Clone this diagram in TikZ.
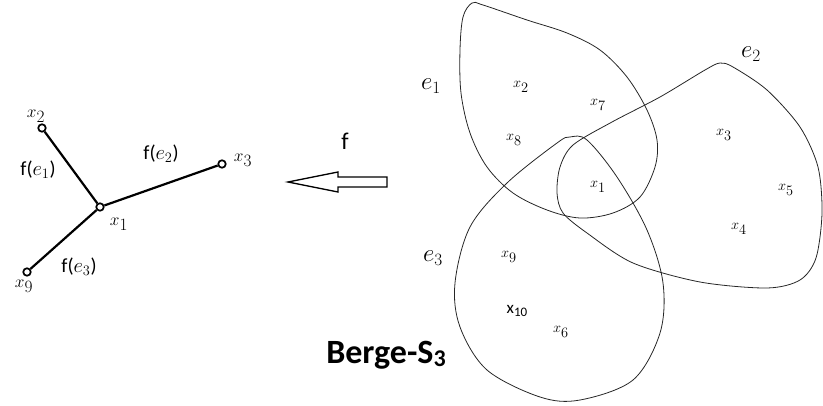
\documentclass[tikz,border=0pt]{standalone}
\usepackage{fontspec}
\newfontfamily\calib{Carlito}
\newcommand{\xs}[1]{$x_{\textstyle #1}$}
\begin{document}
\begin{tikzpicture}[x=1pt,y=-1pt,
  vert/.style={circle,draw,line width=1.7pt,inner sep=0pt,minimum size=7.5pt,fill=white},
  gedge/.style={line width=2.2pt},
  hedge/.style={line width=0.8pt,draw=black!85},
  glab/.style={inner sep=0pt,font=\fontsize{17}{19}\selectfont},
  lab/.style={inner sep=0pt,font=\fontsize{15}{17}\selectfont},
  elab/.style={inner sep=0pt,font=\fontsize{23}{25}\selectfont},
  flab/.style={inner sep=0pt,font=\fontsize{20}{22}\selectfont}]
\useasboundingbox (0,0) rectangle (823,405);
% left graph
\node[vert] (v2) at (42,128) {};
\node[vert] (v1) at (100,207) {};
\node[vert] (v3) at (222,164) {};
\node[vert] (v9) at (27,272) {};
\draw[gedge] (v2) -- (v1);
\draw[gedge] (v1) -- (v3);
\draw[gedge] (v1) -- (v9);
\node[glab] (l2) at (36,116) {\xs{2}};
\node[glab] (l3) at (243,160) {\xs{3}};
\node[glab] (l1) at (119,224) {\xs{1}};
\node[glab] (l9) at (24,286) {\xs{9}};
\node[flab] (f1) at (38,170) {{\calib f(}$e_1${\calib )}};
\node[flab] (f2) at (161,154) {{\calib f(}$e_2${\calib )}};
\node[flab] (f3) at (79,267) {{\calib f(}$e_3${\calib )}};
% arrow
\node[inner sep=0pt,font=\calib\fontsize{24}{26}\selectfont] (fl) at (345,141) {f};
\draw[line width=1.3pt,line join=miter] (288,182) -- (338,172) -- (338,177) -- (387,177) -- (387,187) -- (338,187) -- (338,192) -- cycle;
% hyperedges
\draw[hedge] plot[smooth cycle,tension=0.55] coordinates {
 (472,3) (463,17) (460,50) (461,93) (470,133) (487,167) (513,193) (547,210)
 (580,218) (613,213) (640,197) (655,167) (657,140) (647,110) (627,77)
 (600,50) (567,33) (527,20) (483,5)};
\draw[hedge] plot[smooth cycle,tension=0.5] coordinates {
 (557,193) (560,167) (573,145) (612,122) (660,97) (705,70) (720,63) (733,67)
 (767,90) (800,127) (818,167) (822,213) (816,258) (800,280) (767,288)
 (700,282) (633,263) (587,233) (563,213)};
\draw[hedge] plot[smooth cycle,tension=0.55] coordinates {
 (570,137) (557,143) (507,183) (470,227) (455,283) (460,327) (487,370)
 (540,397) (580,400) (633,380) (660,333) (663,283) (647,230) (617,177)
 (587,140)};
% labels
\node[elab] (e1) at (431,86) {$e_1$};
\node[elab] (e2) at (751,54) {$e_2$};
\node[elab] (e3) at (433,258) {$e_3$};
\node[lab] (h2) at (521,87) {\xs{2}};
\node[lab] (h7) at (598,105) {\xs{7}};
\node[lab] (h8) at (514,140) {\xs{8}};
\node[lab] (h1) at (598,187) {\xs{1}};
\node[lab] (h3) at (724,135) {\xs{3}};
\node[lab] (h5) at (786,190) {\xs{5}};
\node[lab] (h4) at (739,229) {\xs{4}};
\node[lab] (h9) at (509,257) {\xs{9}};
\node[inner sep=0pt,font=\calib\fontsize{17}{19}\selectfont] (h10) at (517,311) {x\raisebox{-0.3ex}{\fontsize{13}{15}\selectfont 10}};
\node[lab] (h6) at (561,332) {\xs{6}};
\node[inner sep=0pt,font=\calib\bfseries\fontsize{34}{36}\selectfont] (title) at (386,355) {Berge-S\raisebox{-0.2ex}{\fontsize{24}{26}\selectfont 3}};
\end{tikzpicture}
\end{document}
